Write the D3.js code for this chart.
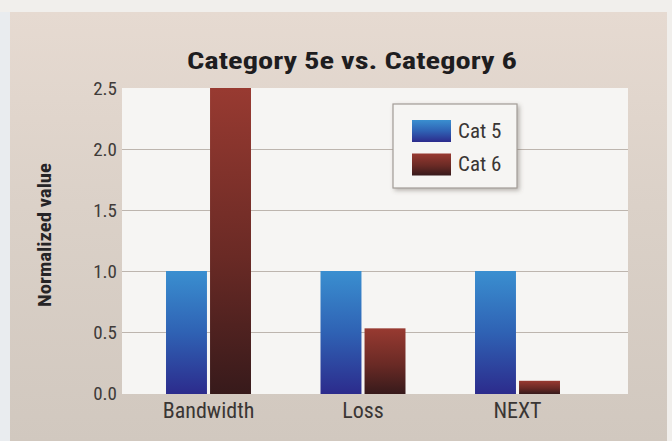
<!DOCTYPE html>
<html>
<head>
<meta charset="utf-8">
<script src="https://cdn.jsdelivr.net/npm/d3@7"></script>
<style>
  html, body { margin: 0; padding: 0; background: #f1efec; }
  svg { display: block; }
  .nar { font-family: "Liberation Sans Narrow", "Arial Narrow", "Roboto Condensed", "DejaVu Sans Condensed", sans-serif; font-stretch: condensed; }
</style>
</head>
<body>
<svg id="chart" width="672" height="441"></svg>
<script>
const categories = ["Bandwidth", "Loss", "NEXT"];
const seriesNames = ["Cat 5", "Cat 6"];
const cat5Values = [1.0, 1.0, 1.0];
const cat6Values = [2.5, 0.53, 0.1];
const yTickValues = [0, 0.5, 1.0, 1.5, 2.0, 2.5];
const yTickLabels = ["0.0", "0.5", "1.0", "1.5", "2.0", "2.5"];
const titleText = "Category 5e vs. Category 6";
const yAxisTitle = "Normalized value";

const svg = d3.select("#chart");
const W = 672, H = 441;
const plot = { left: 122, right: 628, top: 88, bottom: 394 };

const defs = svg.append("defs");
const bgGrad = defs.append("linearGradient").attr("id", "bgGrad").attr("x1", 0).attr("y1", 0).attr("x2", 0).attr("y2", 1);
bgGrad.append("stop").attr("offset", "0%").attr("stop-color", "#e6dad1");
bgGrad.append("stop").attr("offset", "45%").attr("stop-color", "#dbd1c8");
bgGrad.append("stop").attr("offset", "100%").attr("stop-color", "#d1c8bf");

const g5 = defs.append("linearGradient").attr("id", "g5").attr("x1", 0).attr("y1", 0).attr("x2", 0).attr("y2", 1);
g5.append("stop").attr("offset", "0%").attr("stop-color", "#3a8fd0");
g5.append("stop").attr("offset", "50%").attr("stop-color", "#2f62b4");
g5.append("stop").attr("offset", "100%").attr("stop-color", "#2c2b8c");
const g6 = defs.append("linearGradient").attr("id", "g6").attr("x1", 0).attr("y1", 0).attr("x2", 0).attr("y2", 1);
g6.append("stop").attr("offset", "0%").attr("stop-color", "#983a31");
g6.append("stop").attr("offset", "55%").attr("stop-color", "#6a2a25");
g6.append("stop").attr("offset", "100%").attr("stop-color", "#371a1b");
const fills = ["url(#g5)", "url(#g6)"];

const shadow = defs.append("filter").attr("id", "shadow").attr("x", "-20%").attr("y", "-20%").attr("width", "150%").attr("height", "150%");
shadow.append("feDropShadow").attr("dx", 2).attr("dy", 2).attr("stdDeviation", 2).attr("flood-color", "#6a625c").attr("flood-opacity", 0.45);

// page background
svg.append("rect").attr("x", 0).attr("y", 0).attr("width", W).attr("height", H).attr("fill", "#f1efec");
svg.append("rect").attr("x", 0).attr("y", 12).attr("width", 12).attr("height", H - 12).attr("fill", "#e9ecef");
svg.append("rect").attr("x", 10).attr("y", 12).attr("width", 657).attr("height", H - 12).attr("fill", "url(#bgGrad)");

// plot area
svg.append("rect")
  .attr("x", plot.left).attr("y", plot.top)
  .attr("width", plot.right - plot.left).attr("height", plot.bottom - plot.top)
  .attr("fill", "#f6f5f3");

const y = d3.scaleLinear().domain([0, 2.5]).range([393, 88]);
const x0 = d3.scaleBand().domain(categories).range([131.25, 594.75]).paddingInner(0.45).paddingOuter(0.225);
const x1 = d3.scaleBand().domain(seriesNames).range([0, x0.bandwidth()]).paddingInner(0.07).paddingOuter(0);

// gridlines
svg.append("g").selectAll("line")
  .data(yTickValues.filter(v => v > 0 && v < 2.5))
  .join("line")
  .attr("x1", plot.left).attr("x2", plot.right)
  .attr("y1", d => Math.round(y(d)) + 0.5).attr("y2", d => Math.round(y(d)) + 0.5)
  .attr("stroke", "#bdb5ae").attr("stroke-width", 1.2);

// y axis labels
const yAxis = d3.axisLeft(y).tickValues(yTickValues).tickFormat((d, i) => yTickLabels[i]).tickSize(0).tickPadding(0);
const ya = svg.append("g").attr("transform", "translate(117,0)").call(yAxis);
ya.select(".domain").remove();
ya.selectAll("text").attr("class", "nar").attr("font-size", 19).attr("fill", "#403b39").attr("dy", "0.36em");

// bars
const rows = categories.map((c, i) => ({ cat: c, vals: [cat5Values[i], cat6Values[i]] }));
const grp = svg.append("g").selectAll("g").data(rows).join("g")
  .attr("transform", d => `translate(${x0(d.cat)},0)`);
grp.selectAll("rect").data(d => d.vals.map((v, k) => ({ s: seriesNames[k], v, k })))
  .join("rect")
  .attr("x", d => x1(d.s))
  .attr("y", d => y(d.v))
  .attr("width", x1.bandwidth())
  .attr("height", d => plot.bottom - y(d.v))
  .attr("fill", d => fills[d.k]);

// x axis labels
const xAxis = d3.axisBottom(x0).tickSize(0).tickPadding(0);
const xa = svg.append("g").attr("transform", "translate(0,418)").call(xAxis);
xa.select(".domain").remove();
xa.selectAll("text").attr("class", "nar").attr("font-size", 22).attr("fill", "#3a3634").attr("dy", 0);

// title
svg.append("text").attr("class", "nar")
  .attr("x", 352).attr("y", 69).attr("text-anchor", "middle")
  .attr("font-size", 23).attr("font-weight", "bold").attr("fill", "#1e1d1f")
  .attr("textLength", 330).attr("lengthAdjust", "spacingAndGlyphs")
  .text(titleText);

// y axis title
svg.append("text").attr("class", "nar")
  .attr("transform", "translate(51,235) rotate(-90)")
  .attr("text-anchor", "middle")
  .attr("font-size", 18).attr("font-weight", "bold").attr("fill", "#262426")
  .attr("textLength", 144).attr("lengthAdjust", "spacingAndGlyphs")
  .text(yAxisTitle);

// legend
const lg = svg.append("g");
lg.append("rect").attr("x", 393).attr("y", 104).attr("width", 124).attr("height", 84)
  .attr("fill", "#f6f5f3").attr("stroke", "#a29c97").attr("stroke-width", 1.2)
  .attr("filter", "url(#shadow)");
const items = lg.selectAll("g.item").data(seriesNames).join("g").attr("class", "item")
  .attr("transform", (d, i) => `translate(412,${120 + i * 33.5})`);
items.append("rect").attr("width", 39).attr("height", 22).attr("fill", (d, i) => fills[i]);
items.append("text").attr("class", "nar").attr("x", 46).attr("y", 17.5)
  .attr("font-size", 21).attr("fill", "#3a3634").text(d => d);
</script>
</body>
</html>
